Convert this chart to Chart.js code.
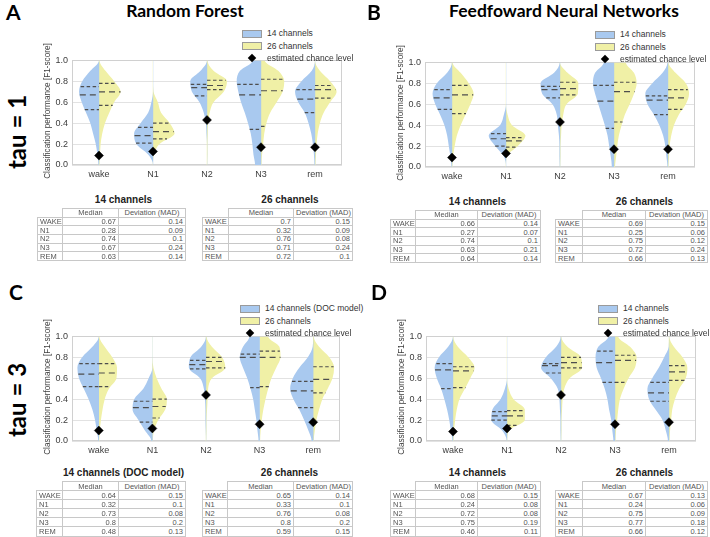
<!DOCTYPE html>
<html>
<head>
<meta charset="utf-8">
<script src="https://cdn.jsdelivr.net/npm/chart.js@4.4.1/dist/chart.umd.min.js"></script>
<style>
  body { margin: 0; width: 710px; height: 537px; position: relative; overflow: hidden; background: #fff;
         font-family: "Liberation Sans", Arial, sans-serif; }
  .abs { position: absolute; }
  .letter { font-family: Lato, "Open Sans", sans-serif; font-weight: bold; font-size: 21px; line-height: 24px; color: #000; }
  .ptitle { font-family: Lato, "Open Sans", sans-serif; font-weight: bold; font-size: 17.5px; line-height: 22px; color: #000; white-space: nowrap; transform: translateX(-50%); }
  .tau { font-family: Lato, "Open Sans", sans-serif; font-weight: bold; font-size: 24px; line-height: 26px; white-space: nowrap; transform: translate(-50%, -50%) rotate(-90deg); }
  .ytitle { font-size: 8.2px; line-height: 10px; color: #3c3c3c; white-space: nowrap; transform: translate(-50%, -50%) rotate(-90deg); }
  .legrow { font-size: 8.5px; line-height: 10px; color: #333; white-space: nowrap; }
  .patch { position: absolute; width: 18px; height: 6px; border: 1px solid #9a9a9a; }
  .diam { position: absolute; width: 6px; height: 6px; background: #000; transform: rotate(45deg); }
  .ttitle { font-weight: bold; font-size: 10px; line-height: 12px; text-align: center; color: #222; white-space: nowrap; }
  table.res { border-collapse: collapse; table-layout: fixed; font-size: 7.5px; color: #555; }
  table.res td { border: 1px solid #c8c8c8; padding: 0 2px; line-height: 7px; overflow: hidden; white-space: nowrap; }
  table.res td.empty { border: none; }
  table.res td.hd { text-align: center; }
  table.res td.num { text-align: right; }
</style>
</head>
<body>
<script>
const stages = ['wake', 'N1', 'N2', 'N3', 'rem'];
const tableRows = ['WAKE', 'N1', 'N2', 'N3', 'REM'];
// violin half widths (share of stage spacing) read at these score levels
const levels = [0, 0.1, 0.2, 0.3, 0.4, 0.5, 0.6, 0.7, 0.8, 0.9, 1.0];

// A - random forest, tau = 1
const rfTau1Width14 = [
  [0.01, 0.03, 0.06, 0.11, 0.16, 0.24, 0.32, 0.37, 0.31, 0.16, 0],
  [0, 0.09, 0.31, 0.35, 0.23, 0.09, 0.03, 0, 0, 0, 0],
  [0, 0, 0, 0.01, 0.02, 0.06, 0.14, 0.28, 0.31, 0.12, 0],
  [0.11, 0.14, 0.16, 0.19, 0.24, 0.30, 0.37, 0.42, 0.45, 0.39, 0.15],
  [0.01, 0.02, 0.04, 0.07, 0.12, 0.19, 0.31, 0.37, 0.25, 0.06, 0]
];
const rfTau1Width26 = [
  [0.01, 0.02, 0.03, 0.06, 0.11, 0.19, 0.28, 0.40, 0.28, 0.12, 0.01],
  [0, 0.02, 0.12, 0.40, 0.31, 0.15, 0.09, 0.01, 0, 0, 0],
  [0.005, 0.01, 0.01, 0.015, 0.02, 0.05, 0.12, 0.31, 0.37, 0.12, 0.01],
  [0.01, 0.02, 0.04, 0.06, 0.10, 0.17, 0.29, 0.40, 0.43, 0.32, 0.07],
  [0.01, 0.02, 0.03, 0.05, 0.09, 0.16, 0.28, 0.40, 0.28, 0.09, 0]
];
const rfTau1Quart14 = [[0.53, 0.67, 0.75], [0.21, 0.28, 0.36], [0.66, 0.74, 0.77], [0.34, 0.67, 0.77], [0.50, 0.63, 0.72]];
const rfTau1Quart26 = [[0.57, 0.70, 0.78], [0.25, 0.32, 0.40], [0.72, 0.76, 0.81], [0.37, 0.71, 0.82], [0.64, 0.72, 0.76]];
const rfTau1Chance = [0.09, 0.13, 0.43, 0.17, 0.17];
const rfTau1Median14 = [0.67, 0.28, 0.74, 0.67, 0.63];
const rfTau1Mad14 = [0.14, 0.09, 0.1, 0.24, 0.14];
const rfTau1Median26 = [0.7, 0.32, 0.76, 0.71, 0.72];
const rfTau1Mad26 = [0.15, 0.09, 0.08, 0.24, 0.1];

// B - feedforward neural networks, tau = 1
const nnTau1Width14 = [
  [0.01, 0.03, 0.06, 0.09, 0.14, 0.22, 0.31, 0.36, 0.28, 0.09, 0],
  [0, 0.04, 0.20, 0.32, 0.11, 0.04, 0, 0, 0, 0, 0],
  [0.005, 0.01, 0.01, 0.02, 0.04, 0.06, 0.14, 0.33, 0.36, 0.11, 0.005],
  [0.04, 0.06, 0.09, 0.12, 0.17, 0.23, 0.29, 0.35, 0.39, 0.35, 0.19],
  [0.01, 0.03, 0.05, 0.09, 0.16, 0.26, 0.38, 0.42, 0.29, 0.10, 0.01]
];
const nnTau1Width26 = [
  [0.01, 0.02, 0.05, 0.09, 0.16, 0.25, 0.34, 0.40, 0.31, 0.16, 0.01],
  [0, 0.01, 0.22, 0.36, 0.11, 0.03, 0, 0, 0, 0, 0],
  [0.005, 0.01, 0.01, 0.02, 0.03, 0.06, 0.12, 0.33, 0.34, 0.14, 0],
  [0.02, 0.04, 0.06, 0.09, 0.14, 0.20, 0.29, 0.37, 0.42, 0.37, 0.22],
  [0.01, 0.02, 0.03, 0.06, 0.11, 0.20, 0.33, 0.39, 0.33, 0.14, 0.01]
];
const nnTau1Quart14 = [[0.55, 0.66, 0.74], [0.20, 0.27, 0.32], [0.66, 0.74, 0.77], [0.37, 0.63, 0.78], [0.50, 0.64, 0.68]];
const nnTau1Quart26 = [[0.51, 0.69, 0.78], [0.19, 0.25, 0.28], [0.69, 0.75, 0.81], [0.43, 0.72, 0.81], [0.55, 0.66, 0.74]];
const nnTau1Chance = [0.09, 0.13, 0.43, 0.17, 0.17];
const nnTau1Median14 = [0.66, 0.27, 0.74, 0.63, 0.64];
const nnTau1Mad14 = [0.14, 0.07, 0.1, 0.21, 0.14];
const nnTau1Median26 = [0.69, 0.25, 0.75, 0.72, 0.66];
const nnTau1Mad26 = [0.15, 0.06, 0.12, 0.24, 0.13];

// C - random forest, tau = 3
const rfTau3Width14 = [
  [0.01, 0.04, 0.07, 0.12, 0.19, 0.28, 0.37, 0.40, 0.31, 0.12, 0],
  [0.02, 0.14, 0.26, 0.37, 0.34, 0.17, 0.07, 0, 0, 0, 0],
  [0, 0.005, 0.01, 0.01, 0.02, 0.04, 0.11, 0.32, 0.29, 0.09, 0],
  [0.02, 0.04, 0.06, 0.09, 0.12, 0.17, 0.23, 0.31, 0.37, 0.31, 0.19],
  [0.03, 0.09, 0.17, 0.26, 0.37, 0.43, 0.38, 0.26, 0.10, 0.01, 0]
];
const rfTau3Width26 = [
  [0.01, 0.02, 0.04, 0.07, 0.11, 0.19, 0.33, 0.34, 0.25, 0.11, 0.01],
  [0.01, 0.03, 0.11, 0.24, 0.27, 0.17, 0.08, 0.02, 0, 0, 0],
  [0.005, 0.01, 0.01, 0.02, 0.03, 0.04, 0.11, 0.36, 0.30, 0.11, 0.01],
  [0.01, 0.02, 0.04, 0.07, 0.11, 0.16, 0.22, 0.31, 0.39, 0.37, 0.16],
  [0.01, 0.03, 0.06, 0.11, 0.17, 0.27, 0.36, 0.39, 0.30, 0.11, 0.01]
];
const rfTau3Quart14 = [[0.52, 0.64, 0.74], [0.18, 0.32, 0.38], [0.69, 0.73, 0.77], [0.51, 0.80, 0.83], [0.32, 0.48, 0.57]];
const rfTau3Quart26 = [[0.52, 0.65, 0.74], [0.22, 0.33, 0.40], [0.70, 0.76, 0.80], [0.52, 0.80, 0.86], [0.46, 0.59, 0.71]];
const rfTau3Chance = [0.10, 0.12, 0.44, 0.16, 0.18];
const rfTau3Median14 = [0.64, 0.32, 0.73, 0.8, 0.48];
const rfTau3Mad14 = [0.15, 0.1, 0.08, 0.2, 0.13];
const rfTau3Median26 = [0.65, 0.33, 0.76, 0.8, 0.59];
const rfTau3Mad26 = [0.14, 0.1, 0.08, 0.2, 0.15];

// D - feedforward neural networks, tau = 3
const nnTau3Width14 = [
  [0.01, 0.04, 0.07, 0.11, 0.16, 0.22, 0.30, 0.34, 0.26, 0.09, 0],
  [0.005, 0.09, 0.29, 0.27, 0.12, 0.04, 0, 0, 0, 0, 0],
  [0.005, 0.01, 0.01, 0.02, 0.03, 0.06, 0.19, 0.37, 0.28, 0.09, 0.005],
  [0.03, 0.05, 0.07, 0.11, 0.14, 0.19, 0.26, 0.34, 0.36, 0.31, 0.12],
  [0.02, 0.06, 0.12, 0.25, 0.37, 0.40, 0.31, 0.19, 0.09, 0.005, 0]
];
const nnTau3Width26 = [
  [0.01, 0.02, 0.04, 0.07, 0.12, 0.22, 0.32, 0.40, 0.28, 0.09, 0.005],
  [0.005, 0.04, 0.33, 0.33, 0.12, 0.03, 0, 0, 0, 0, 0],
  [0.005, 0.01, 0.01, 0.02, 0.03, 0.06, 0.16, 0.39, 0.37, 0.12, 0.005],
  [0.01, 0.02, 0.04, 0.06, 0.09, 0.16, 0.25, 0.37, 0.40, 0.28, 0.06],
  [0.01, 0.02, 0.04, 0.06, 0.11, 0.19, 0.31, 0.34, 0.25, 0.09, 0.005]
];
const nnTau3Quart14 = [[0.50, 0.68, 0.74], [0.20, 0.24, 0.28], [0.65, 0.72, 0.74], [0.56, 0.75, 0.86], [0.38, 0.46, 0.56]];
const nnTau3Quart26 = [[0.51, 0.67, 0.71], [0.15, 0.24, 0.29], [0.70, 0.75, 0.80], [0.56, 0.77, 0.82], [0.58, 0.66, 0.72]];
const nnTau3Chance = [0.09, 0.12, 0.44, 0.16, 0.18];
const nnTau3Median14 = [0.68, 0.24, 0.72, 0.75, 0.46];
const nnTau3Mad14 = [0.15, 0.08, 0.08, 0.19, 0.11];
const nnTau3Median26 = [0.67, 0.24, 0.75, 0.77, 0.66];
const nnTau3Mad26 = [0.13, 0.06, 0.09, 0.18, 0.12];

const BLUE = '#a9c9ef';
const YELLOW = '#f0f0a6';
const LINE = '#4d4d4d';
const Y_TITLE = 'Classification performance [F1-score]';

// page layout of the four panels
const panels = [
  { letter: 'A', lx: 6, ly: 0, title: 'Random Forest', tx: 185, ty: 0, tau: 'tau = 1', tauY: 132,
    plot: { L: 72, R: 342, T: 57, B: 165 }, legX: 242, legY: 28, leg14: '14 channels',
    w14: rfTau1Width14, w26: rfTau1Width26, q14: rfTau1Quart14, q26: rfTau1Quart26, chance: rfTau1Chance,
    tables: [
      { x: 37, cols: [25, 56, 67], top: 208, rowH: 8.7, title: '14 channels', med: rfTau1Median14, mad: rfTau1Mad14 },
      { x: 202, cols: [26, 65, 59], top: 208, rowH: 8.7, title: '26 channels', med: rfTau1Median26, mad: rfTau1Mad26 }
    ] },
  { letter: 'B', lx: 367, ly: 0, title: 'Feedfoward Neural Networks', tx: 564, ty: 0,
    plot: { L: 425, R: 695, T: 59, B: 167 }, legX: 595, legY: 29, leg14: '14 channels',
    w14: nnTau1Width14, w26: nnTau1Width26, q14: nnTau1Quart14, q26: nnTau1Quart26, chance: nnTau1Chance,
    tables: [
      { x: 390, cols: [25, 62, 63], top: 210, rowH: 8.7, title: '14 channels', med: nnTau1Median14, mad: nnTau1Mad14 },
      { x: 555, cols: [27, 63, 62], top: 210, rowH: 8.7, title: '26 channels', med: nnTau1Median26, mad: nnTau1Mad26 }
    ] },
  { letter: 'C', lx: 9, ly: 280, tau: 'tau = 3', tauY: 400,
    plot: { L: 72, R: 340, T: 333, B: 441 }, legX: 240, legY: 303, leg14: '14 channels (DOC model)',
    w14: rfTau3Width14, w26: rfTau3Width26, q14: rfTau3Quart14, q26: rfTau3Quart26, chance: rfTau3Chance,
    tables: [
      { x: 36, cols: [26, 56, 67], top: 481, rowH: 9.1, title: '14 channels (DOC model)', med: rfTau3Median14, mad: rfTau3Mad14 },
      { x: 202, cols: [25, 66, 59], top: 481, rowH: 9.1, title: '26 channels', med: rfTau3Median26, mad: rfTau3Mad26 }
    ] },
  { letter: 'D', lx: 371, ly: 280,
    plot: { L: 426, R: 696, T: 333, B: 441 }, legX: 598, legY: 303, leg14: '14 channels',
    w14: nnTau3Width14, w26: nnTau3Width26, q14: nnTau3Quart14, q26: nnTau3Quart26, chance: nnTau3Chance,
    tables: [
      { x: 390, cols: [25, 62, 63], top: 481, rowH: 9.1, title: '14 channels', med: nnTau3Median14, mad: nnTau3Mad14 },
      { x: 555, cols: [27, 63, 62], top: 481, rowH: 9.1, title: '26 channels', med: nnTau3Median26, mad: nnTau3Mad26 }
    ] }
];

Chart.defaults.font.family = '"Liberation Sans", Arial, sans-serif';
Chart.defaults.color = '#3c3c3c';

const framePlugin = {
  id: 'frame',
  beforeDatasetsDraw(chart) {
    const a = chart.chartArea, ctx = chart.ctx;
    ctx.save();
    ctx.strokeStyle = '#d0d0d0';
    ctx.lineWidth = 1;
    ctx.strokeRect(Math.round(a.left) + 0.5, Math.round(a.top) + 0.5, Math.round(a.width) - 1, Math.round(a.height) - 1);
    ctx.restore();
  }
};

function widthAt(widths, v) {
  const k = Math.min(Math.floor(v * 10), 9);
  const t = v * 10 - k;
  return widths[k] * (1 - t) + widths[k + 1] * t;
}

// one half of a split violin, closed along the stage centre line
function halfViolin(i, widths, side, color) {
  const c = i - side * 0.004;
  const pts = [{ x: c, y: 0 }];
  levels.forEach((lv, k) => pts.push({ x: i + side * widths[k], y: lv }));
  pts.push({ x: c, y: 1 });
  return { data: pts, fill: 'shape', backgroundColor: color, borderWidth: 0, pointRadius: 0,
           cubicInterpolationMode: 'monotone', order: 3 };
}

function quartLine(i, widths, side, q, dash) {
  const w = widthAt(widths, q);
  const a = { x: i, y: q }, b = { x: i + side * w, y: q };
  return { data: side < 0 ? [b, a] : [a, b], borderColor: LINE, borderWidth: 1.2, borderDash: dash,
           pointRadius: 0, fill: false, tension: 0, order: 2 };
}

function el(cls, style, text) {
  const d = document.createElement('div');
  d.className = cls;
  Object.assign(d.style, style);
  if (text !== undefined) d.textContent = text;
  document.body.appendChild(d);
  return d;
}

function makeChart(p) {
  const b = p.plot;
  const canvas = document.createElement('canvas');
  canvas.width = b.R - b.L + 42;
  canvas.height = b.B - b.T + 28;
  canvas.className = 'abs';
  canvas.style.left = (b.L - 36) + 'px';
  canvas.style.top = (b.T - 6) + 'px';
  document.body.appendChild(canvas);
  el('abs ytitle', { left: (b.L - 24) + 'px', top: ((b.T + b.B) / 2) + 'px' }, Y_TITLE);

  const datasets = [];
  stages.forEach((s, i) => {
    datasets.push(halfViolin(i, p.w14[i], -1, BLUE));
    datasets.push(halfViolin(i, p.w26[i], 1, YELLOW));
  });
  stages.forEach((s, i) => {
    p.q14[i].forEach((q, k) => datasets.push(quartLine(i, p.w14[i], -1, q, k === 1 ? [6, 4] : [3.5, 2.5])));
    p.q26[i].forEach((q, k) => datasets.push(quartLine(i, p.w26[i], 1, q, k === 1 ? [6, 4] : [3.5, 2.5])));
  });
  datasets.push({
    data: p.chance.map((v, i) => ({ x: i, y: v })),
    showLine: false, pointStyle: 'rectRot', pointRadius: 4.5, order: 1,
    pointBackgroundColor: '#000', pointBorderColor: '#000', pointBorderWidth: 0.5
  });

  new Chart(canvas, {
    type: 'line',
    data: { datasets: datasets },
    options: {
      indexAxis: 'y',
      responsive: false,
      animation: false,
      events: [],
      layout: { padding: { top: 6, right: 6, left: 0, bottom: 0 } },
      plugins: { legend: { display: false }, tooltip: { enabled: false } },
      scales: {
        x: {
          type: 'linear', min: -0.5, max: 4.5,
          afterBuildTicks: s => { s.ticks = stages.map((_, i) => ({ value: i })); },
          afterFit: s => { s.height = 22; },
          grid: { display: false, drawTicks: false },
          border: { display: false },
          ticks: { callback: v => stages[v], font: { size: 9 }, padding: 4, autoSkip: false, maxRotation: 0 }
        },
        y: {
          type: 'linear', min: 0, max: 1,
          afterFit: s => { s.width = 36; },
          grid: { color: '#e2e2e2', drawTicks: false },
          border: { display: false },
          ticks: { stepSize: 0.2, callback: v => v.toFixed(1), font: { size: 9 }, padding: 4 }
        }
      }
    },
    plugins: [framePlugin]
  });
}

function makeLegend(p) {
  const rows = [[p.leg14, BLUE], ['26 channels', YELLOW], ['estimated chance level', null]];
  rows.forEach((r, k) => {
    const y = p.legY + k * 12.5;
    if (r[1]) el('patch', { left: p.legX + 'px', top: (y + 1.5) + 'px', background: r[1] });
    else el('diam', { left: (p.legX + 7) + 'px', top: (y + 2) + 'px' });
    el('abs legrow', { left: (p.legX + 25) + 'px', top: y + 'px' }, r[0]);
  });
}

function makeTable(t) {
  const dataW = t.cols[1] + t.cols[2];
  el('abs ttitle', { left: (t.x + t.cols[0]) + 'px', top: (t.top - 14) + 'px', width: dataW + 'px' }, t.title);
  const table = document.createElement('table');
  table.className = 'res abs';
  table.style.left = t.x + 'px';
  table.style.top = t.top + 'px';
  table.style.width = (t.cols[0] + dataW) + 'px';
  const cg = document.createElement('colgroup');
  t.cols.forEach(w => { const c = document.createElement('col'); c.style.width = w + 'px'; cg.appendChild(c); });
  table.appendChild(cg);
  const addRow = (cells, classes) => {
    const tr = document.createElement('tr');
    tr.style.height = t.rowH + 'px';
    cells.forEach((c, k) => {
      const td = document.createElement('td');
      td.className = classes[k];
      td.textContent = c;
      tr.appendChild(td);
    });
    table.appendChild(tr);
  };
  addRow(['', 'Median', 'Deviation (MAD)'], ['empty', 'hd', 'hd']);
  tableRows.forEach((r, i) => addRow([r, String(t.med[i]), String(t.mad[i])], ['', 'num', 'num']));
  document.body.appendChild(table);
}

panels.forEach(p => {
  el('abs letter', { left: p.lx + 'px', top: p.ly + 'px' }, p.letter);
  if (p.title) el('abs ptitle', { left: p.tx + 'px', top: p.ty + 'px' }, p.title);
  if (p.tau) el('abs tau', { left: '17px', top: p.tauY + 'px' }, p.tau);
  makeChart(p);
  makeLegend(p);
  p.tables.forEach(makeTable);
});
</script>
</body>
</html>
